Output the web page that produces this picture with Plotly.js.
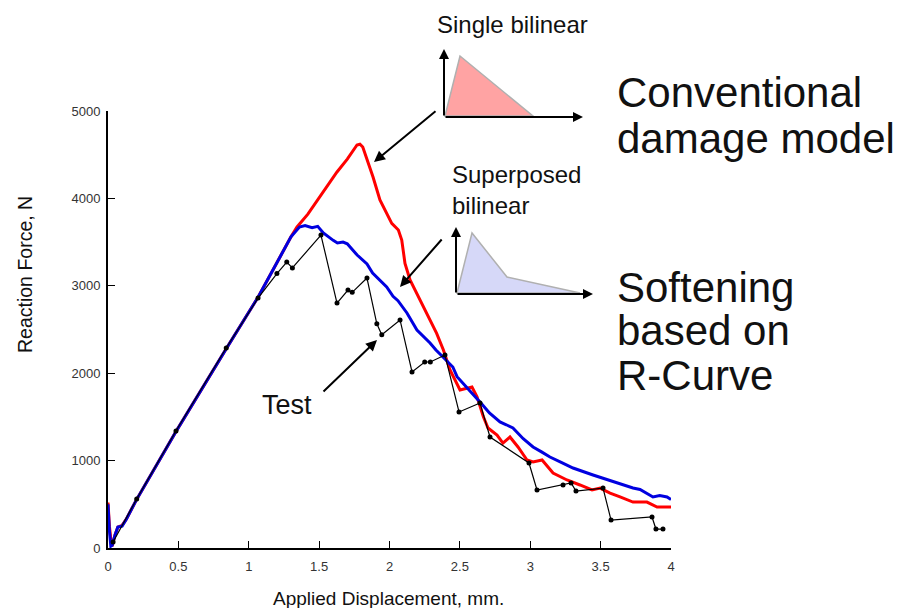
<!DOCTYPE html>
<html>
<head>
<meta charset="utf-8">
<script src="https://cdn.plot.ly/plotly-3.0.1.min.js"></script>
<style>html,body{margin:0;padding:0;background:#fff;}#chart{width:901px;height:608px;}</style>
</head>
<body>
<div id="chart"></div>
<script>
// ---- data ----
const testX = [0.036, 0.204, 0.483, 0.84, 1.066, 1.2, 1.27, 1.31, 1.513, 1.627, 1.705, 1.735, 1.84, 1.91, 1.945, 2.075, 2.16, 2.25, 2.29, 2.394, 2.494, 2.643, 2.714, 2.991, 3.048, 3.233, 3.29, 3.325, 3.517, 3.574, 3.865, 3.893, 3.943];
const testY = [69, 560, 1339, 2288, 2860, 3140, 3272, 3204, 3581, 2803, 2952, 2925, 3089, 2565, 2440, 2609, 2014, 2128, 2128, 2208, 1556, 1659, 1270, 973, 664, 721, 744, 652, 686, 320, 355, 217, 217];

const softX = [0, 0.005, 0.01, 0.02, 0.03, 0.05, 0.07, 0.10, 0.13, 0.2, 0.48, 0.84, 1.07, 1.30, 1.36, 1.40, 1.45, 1.49, 1.53, 1.60, 1.63, 1.67, 1.70, 1.77, 1.84, 1.88, 1.93, 1.98, 2.025, 2.06, 2.124, 2.195, 2.288, 2.33, 2.38, 2.45, 2.48, 2.52, 2.58, 2.62, 2.66, 2.71, 2.785, 2.83, 2.877, 2.95, 3.02, 3.08, 3.14, 3.22, 3.304, 3.446, 3.53, 3.616, 3.73, 3.78, 3.829, 3.872, 3.92, 3.972, 4.0];
const softY = [500, 280, 200, 20, 30, 150, 240, 250, 330, 545, 1325, 2280, 2880, 3560, 3673, 3690, 3665, 3680, 3604, 3520, 3490, 3500, 3480, 3352, 3250, 3146, 3066, 2986, 2880, 2830, 2689, 2494, 2346, 2265, 2185, 2071, 1960, 1888, 1780, 1720, 1640, 1545, 1442, 1410, 1373, 1250, 1156, 1100, 1041, 980, 915, 835, 790, 744, 686, 670, 629, 584, 600, 584, 555];

const convX = [0, 0.005, 0.01, 0.02, 0.03, 0.05, 0.07, 0.10, 0.13, 0.2, 0.48, 0.84, 1.07, 1.30, 1.343, 1.42, 1.506, 1.627, 1.70, 1.769, 1.79, 1.81, 1.883, 1.932, 2.016, 2.063, 2.087, 2.11, 2.146, 2.217, 2.264, 2.335, 2.383, 2.43, 2.501, 2.54, 2.586, 2.622, 2.667, 2.70, 2.764, 2.806, 2.856, 2.913, 2.977, 3.02, 3.084, 3.162, 3.261, 3.353, 3.439, 3.496, 3.567, 3.638, 3.73, 3.829, 3.901, 3.972, 4.0];
const convY = [520, 300, 250, 100, 20, 150, 240, 260, 330, 545, 1325, 2280, 2880, 3560, 3673, 3820, 4016, 4302, 4450, 4611, 4620, 4588, 4245, 3982, 3715, 3638, 3524, 3257, 3066, 2838, 2685, 2456, 2265, 2037, 1808, 1820, 1842, 1731, 1502, 1373, 1293, 1201, 1270, 1156, 1007, 984, 1007, 858, 778, 721, 664, 686, 629, 584, 526, 526, 469, 469, 470];

const xTicks = [0, 0.5, 1, 1.5, 2, 2.5, 3, 3.5, 4];
const xTickText = ['0', '0.5', '1', '1.5', '2', '2.5', '3', '3.5', '4'];
const yTicks = [0, 1000, 2000, 3000, 4000, 5000];
const yTickText = ['0', '1000', '2000', '3000', '4000', '5000'];

// ---- layout helpers (pixel -> paper) ----
const L = 108, R = 671, T = 111, B = 548;
const fx = p => (p - L) / (R - L);
const fy = p => (B - p) / (B - T);
const FONT = 'Liberation Sans, Arial, sans-serif';

const traces = [
  {x: convX, y: convY, type: 'scatter', mode: 'lines', line: {color: '#ff0000', width: 3}, hoverinfo: 'skip'},
  {x: softX, y: softY, type: 'scatter', mode: 'lines', line: {color: '#0000e0', width: 3}, hoverinfo: 'skip'},
  {x: testX, y: testY, type: 'scatter', mode: 'lines+markers', line: {color: '#000', width: 1.2},
   marker: {color: '#000', size: 5}, hoverinfo: 'skip'}
];

function arrow(hx, hy, tx, ty, w, size) {
  return {xref: 'paper', yref: 'paper', x: fx(hx), y: fy(hy), ax: tx - hx, ay: ty - hy,
    text: '', showarrow: true, arrowhead: 2, arrowsize: size || 1.1, arrowwidth: w || 2, arrowcolor: '#000'};
}
function label(txt, x, y, size, xanchor) {
  return {xref: 'paper', yref: 'paper', x: fx(x), y: fy(y), text: txt, showarrow: false,
    xanchor: xanchor || 'left', yanchor: 'middle', align: 'left',
    font: {family: FONT, size: size, color: '#111'}};
}

const annotations = [
  arrow(374, 162, 437, 110),
  arrow(400, 287, 443, 238),
  arrow(377, 340, 322, 393),
  // inset axes
  arrow(444, 49, 444, 117, 2, 1),
  arrow(583, 117, 444, 117, 2, 1),
  arrow(456, 227, 456, 294, 2, 1),
  arrow(593, 294, 456, 294, 2, 1),
  label('Single bilinear', 512, 25, 24, 'center'),
  label('Superposed', 450, 174, 24),
  label('bilinear', 450, 205, 24),
  label('Test', 287, 405, 27, 'center'),
  label('Conventional', 615, 93, 42),
  label('damage model', 615, 138, 42),
  label('Softening', 615, 287, 42),
  label('based on', 615, 330, 42),
  label('R-Curve', 615, 375, 42),
  {xref: 'paper', yref: 'paper', x: fx(388), y: fy(598), text: 'Applied Displacement, mm.', showarrow: false,
   xanchor: 'center', yanchor: 'middle', font: {family: FONT, size: 19, color: '#111'}},
  {xref: 'paper', yref: 'paper', x: fx(25), y: fy(275), text: 'Reaction Force, N', showarrow: false, textangle: -90,
   xanchor: 'center', yanchor: 'middle', font: {family: FONT, size: 19.5, color: '#111'}}
];

function poly(pts) {
  return 'M ' + pts.map(p => fx(p[0]) + ',' + fy(p[1])).join(' L ') + ' Z';
}
const shapes = [
  {type: 'path', xref: 'paper', yref: 'paper', path: poly([[445, 116], [460, 56], [533, 116]]),
   fillcolor: '#ffa3a3', line: {color: '#b0b0b0', width: 1.5}, layer: 'below'},
  {type: 'path', xref: 'paper', yref: 'paper', path: poly([[457, 293], [472, 233], [507, 277], [580, 293]]),
   fillcolor: '#d6d8f8', line: {color: '#b0b0b0', width: 1.5}, layer: 'below'}
];

const layout = {
  width: 901, height: 608,
  margin: {l: L, r: 901 - R, t: T, b: 608 - B, pad: 0},
  paper_bgcolor: '#fff', plot_bgcolor: '#fff',
  showlegend: false,
  xaxis: {range: [0, 4], tickvals: xTicks, ticktext: xTickText, ticks: 'inside', ticklen: 7, tickwidth: 1, tickcolor: '#000',
    showline: true, linecolor: '#000', linewidth: 2, showgrid: false, zeroline: false, ticklabelstandoff: 5,
    tickfont: {family: FONT, size: 13, color: '#333'}},
  yaxis: {range: [0, 5000], tickvals: yTicks, ticktext: yTickText, ticks: 'inside', ticklen: 7, tickwidth: 1, tickcolor: '#000',
    showline: true, linecolor: '#000', linewidth: 2, showgrid: false, zeroline: false, ticklabelstandoff: 3,
    tickfont: {family: FONT, size: 13, color: '#333'}},
  annotations: annotations,
  shapes: shapes
};

Plotly.newPlot('chart', traces, layout, {displayModeBar: false, staticPlot: true});
</script>
</body>
</html>
